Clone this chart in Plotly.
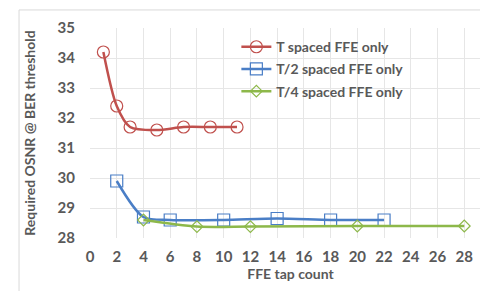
import plotly.graph_objects as go

# Data
t_x = [1, 2, 3, 5, 7, 9, 11]
t_y = [34.2, 32.4, 31.7, 31.6, 31.7, 31.7, 31.7]
t2_x = [2, 4, 6, 10, 14, 18, 22]
t2_y = [29.9, 28.7, 28.6, 28.6, 28.65, 28.6, 28.6]
t4_x = [4, 8, 12, 20, 28]
t4_y = [28.6, 28.38, 28.38, 28.4, 28.4]
names = ["T spaced FFE only", "T/2 spaced FFE only", "T/4 spaced FFE only"]
x_ticks = list(range(0, 31, 2))
y_ticks = list(range(28, 36))

colors = ["#C0504D", "#4A7EC6", "#8DB84A"]
symbols = ["circle-open", "square-open", "diamond-open"]

fig = go.Figure()
for i, (xs, ys) in enumerate([(t_x, t_y), (t2_x, t2_y), (t4_x, t4_y)]):
    fig.add_trace(go.Scatter(
        x=xs, y=ys, name=names[i], mode="lines+markers",
        line=dict(color=colors[i], width=2.5, shape="spline", smoothing=0.8),
        marker=dict(symbol=symbols[i], size=12 if i < 2 else 9, color=colors[i], line=dict(width=1.2)),
        legendgroup=str(i),
    ))

font_fam = "Lato, Open Sans, sans-serif"
fig.update_layout(
    width=488, height=291,
    margin=dict(l=82, r=5, t=20, b=61),
    paper_bgcolor="white", plot_bgcolor="white",
    font=dict(family=font_fam, color="#595959", size=15, weight="bold"),
    showlegend=True,
    legend=dict(x=0.365, y=0.985, xanchor="left", yanchor="top", bgcolor="rgba(0,0,0,0)",
                font=dict(size=14, color="#595959", family=font_fam, weight="bold"),
                tracegroupgap=1),
    xaxis=dict(range=[0, 30], tickvals=x_ticks, ticktext=[str(v) for v in x_ticks],
               showgrid=True, gridcolor="#E6E6E6", gridwidth=1, zeroline=False,
               showline=False, ticks="", ticklen=0, ticklabelstandoff=8,
               tickfont=dict(size=15),
               title=dict(text="FFE tap count", font=dict(size=14, weight="bold"), standoff=2)),
    yaxis=dict(range=[28, 35], tickvals=y_ticks, showgrid=True, gridcolor="#E6E6E6",
               gridwidth=1, zeroline=False, showline=False, ticks="", ticklabelstandoff=14,
               tickfont=dict(size=15),
               title=dict(text="Required OSNR @ BER threshold", font=dict(size=14, weight="bold"), standoff=18)),
    shapes=[dict(type="rect", xref="paper", yref="paper", x0=-0.177, x1=1.01, y0=-0.271, y1=1.086,
                 line=dict(color="#D9D9D9", width=1), fillcolor="rgba(0,0,0,0)", layer="below")],
)

fig.write_html("out.html")
